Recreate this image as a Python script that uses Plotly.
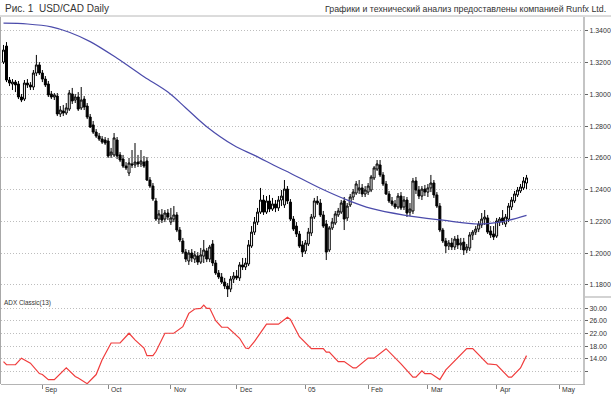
import pandas as pd
import plotly.graph_objects as go

# ---- data ----
start_date = "2004-08-13"
n_bars = 176
dates = pd.bdate_range(start_date, periods=n_bars)
bars = list(range(n_bars))

open_ = [1.3204,1.3305,1.3091,1.3066,1.3078,1.3066,1.2984,1.2971,1.3072,1.3060,
         1.3047,1.3135,1.3186,1.3135,1.3097,1.3066,1.3003,1.2984,1.2990,1.2877,
         1.2896,1.2883,1.2908,1.3003,1.2965,1.2984,1.2915,1.2971,1.2927,1.2858,
         1.2808,1.2763,1.2738,1.2719,1.2713,1.2707,1.2619,1.2619,1.2713,1.2619,
         1.2593,1.2549,1.2505,1.2562,1.2556,1.2574,1.2562,1.2574,1.2581,1.2461,
         1.2423,1.2329,1.2215,1.2241,1.2215,1.2253,1.2196,1.2215,1.2241,1.2146,
         1.2077,1.2007,1.1951,1.2001,1.1963,1.1982,1.1944,1.1982,1.2014,1.1963,
         1.2058,1.1938,1.1875,1.1850,1.1818,1.1793,1.1774,1.1837,1.1856,1.1844,
         1.1926,1.1913,1.1932,1.2045,1.2133,1.2196,1.2259,1.2335,1.2259,1.2329,
         1.2278,1.2310,1.2285,1.2335,1.2304,1.2404,1.2322,1.2215,1.2171,1.2121,
         1.2052,1.2014,1.2058,1.2127,1.2228,1.2329,1.2316,1.2241,1.2184,1.2020,
         1.2159,1.2190,1.2241,1.2259,1.2329,1.2222,1.2304,1.2354,1.2379,1.2398,
         1.2411,1.2373,1.2385,1.2398,1.2474,1.2530,1.2556,1.2493,1.2436,1.2373,
         1.2329,1.2310,1.2291,1.2360,1.2291,1.2335,1.2259,1.2266,1.2455,1.2398,
         1.2360,1.2404,1.2385,1.2411,1.2442,1.2367,1.2297,1.2146,1.2077,1.2045,
         1.2064,1.2039,1.2089,1.2052,1.2070,1.2020,1.2033,1.2115,1.2133,1.2152,
         1.2178,1.2215,1.2222,1.2140,1.2121,1.2108,1.2196,1.2222,1.2184,1.2215,
         1.2291,1.2329,1.2367,1.2392,1.2411,1.2442]
high = [1.3312,1.3330,1.3110,1.3097,1.3091,1.3085,1.3003,1.3091,1.3097,1.3078,
        1.3154,1.3249,1.3204,1.3154,1.3116,1.3085,1.3022,1.3009,1.3009,1.2927,
        1.2934,1.2946,1.3028,1.3041,1.3003,1.3015,1.3047,1.2990,1.2946,1.2877,
        1.2833,1.2782,1.2757,1.2738,1.2732,1.2726,1.2663,1.2757,1.2732,1.2637,
        1.2619,1.2574,1.2600,1.2650,1.2694,1.2619,1.2650,1.2612,1.2606,1.2480,
        1.2442,1.2348,1.2272,1.2278,1.2272,1.2278,1.2285,1.2297,1.2259,1.2165,
        1.2096,1.2026,1.2020,1.2026,1.2014,1.2007,1.2033,1.2083,1.2033,1.2052,
        1.2083,1.1957,1.1894,1.1875,1.1844,1.1812,1.1856,1.1881,1.1894,1.1944,
        1.1970,1.1970,1.2083,1.2171,1.2228,1.2285,1.2411,1.2367,1.2360,1.2367,
        1.2348,1.2335,1.2360,1.2398,1.2461,1.2423,1.2341,1.2234,1.2196,1.2140,
        1.2077,1.2083,1.2159,1.2247,1.2348,1.2360,1.2341,1.2266,1.2209,1.2171,
        1.2222,1.2266,1.2285,1.2335,1.2354,1.2316,1.2373,1.2404,1.2455,1.2461,
        1.2436,1.2423,1.2442,1.2493,1.2549,1.2587,1.2587,1.2511,1.2455,1.2392,
        1.2354,1.2335,1.2379,1.2385,1.2360,1.2354,1.2316,1.2474,1.2480,1.2423,
        1.2423,1.2430,1.2436,1.2493,1.2461,1.2385,1.2316,1.2159,1.2096,1.2083,
        1.2096,1.2108,1.2115,1.2096,1.2096,1.2058,1.2133,1.2146,1.2171,1.2203,
        1.2253,1.2272,1.2241,1.2171,1.2171,1.2222,1.2228,1.2272,1.2247,1.2316,
        1.2354,1.2392,1.2417,1.2436,1.2480,1.2493]
low = [1.3192,1.3078,1.3053,1.3028,1.3015,1.2971,1.2952,1.2959,1.3041,1.3028,
       1.3028,1.3116,1.3123,1.3078,1.3047,1.2984,1.2971,1.2965,1.2864,1.2858,
       1.2864,1.2871,1.2896,1.2940,1.2946,1.2896,1.2902,1.2902,1.2845,1.2789,
       1.2751,1.2726,1.2707,1.2688,1.2682,1.2600,1.2600,1.2606,1.2593,1.2574,
       1.2537,1.2524,1.2486,1.2537,1.2537,1.2543,1.2543,1.2537,1.2455,1.2411,
       1.2329,1.2203,1.2184,1.2190,1.2196,1.2209,1.2178,1.2196,1.2133,1.2070,
       1.1995,1.1944,1.1926,1.1944,1.1938,1.1926,1.1932,1.1938,1.1944,1.1944,
       1.1919,1.1863,1.1837,1.1806,1.1774,1.1724,1.1755,1.1812,1.1831,1.1825,
       1.1894,1.1894,1.1919,1.2033,1.2115,1.2178,1.2247,1.2241,1.2247,1.2259,
       1.2266,1.2259,1.2266,1.2297,1.2285,1.2310,1.2203,1.2140,1.2102,1.2033,
       1.1976,1.1995,1.2045,1.2108,1.2215,1.2304,1.2228,1.2159,1.1957,1.2007,
       1.2146,1.2178,1.2228,1.2247,1.2146,1.2203,1.2291,1.2335,1.2367,1.2373,
       1.2354,1.2354,1.2367,1.2385,1.2461,1.2518,1.2480,1.2423,1.2367,1.2316,
       1.2297,1.2278,1.2278,1.2272,1.2272,1.2228,1.2234,1.2247,1.2373,1.2341,
       1.2335,1.2360,1.2354,1.2385,1.2348,1.2285,1.2133,1.2064,1.2001,1.2020,
       1.2020,1.2020,1.2026,1.2020,1.1989,1.2001,1.2014,1.2083,1.2115,1.2133,
       1.2159,1.2178,1.2121,1.2096,1.2083,1.2096,1.2171,1.2178,1.2165,1.2196,
       1.2272,1.2316,1.2354,1.2379,1.2398,1.2404]
close = [1.3280,1.3091,1.3072,1.3078,1.3060,1.2984,1.2965,1.3072,1.3060,1.3047,
         1.3135,1.3186,1.3135,1.3097,1.3060,1.2997,1.2984,1.2997,1.2877,1.2902,
         1.2883,1.2915,1.3009,1.2959,1.2984,1.2908,1.2965,1.2921,1.2858,1.2795,
         1.2763,1.2738,1.2719,1.2700,1.2694,1.2612,1.2637,1.2726,1.2612,1.2587,
         1.2549,1.2537,1.2568,1.2556,1.2574,1.2562,1.2581,1.2549,1.2461,1.2423,
         1.2341,1.2215,1.2247,1.2209,1.2253,1.2228,1.2222,1.2241,1.2146,1.2083,
         1.2007,1.1963,1.2001,1.1970,1.1989,1.1944,1.1989,1.2020,1.1963,1.2039,
         1.1938,1.1875,1.1850,1.1818,1.1793,1.1774,1.1837,1.1856,1.1844,1.1926,
         1.1913,1.1938,1.2052,1.2133,1.2196,1.2259,1.2335,1.2259,1.2329,1.2278,
         1.2310,1.2285,1.2335,1.2360,1.2404,1.2329,1.2215,1.2152,1.2121,1.2045,
         1.2007,1.2064,1.2133,1.2228,1.2329,1.2316,1.2241,1.2171,1.2007,1.2159,
         1.2196,1.2247,1.2266,1.2316,1.2215,1.2297,1.2354,1.2385,1.2436,1.2411,
         1.2373,1.2398,1.2423,1.2480,1.2537,1.2562,1.2493,1.2436,1.2373,1.2329,
         1.2310,1.2291,1.2360,1.2285,1.2335,1.2253,1.2278,1.2455,1.2398,1.2360,
         1.2404,1.2385,1.2411,1.2442,1.2367,1.2297,1.2146,1.2077,1.2045,1.2064,
         1.2039,1.2089,1.2052,1.2064,1.2020,1.2039,1.2115,1.2133,1.2152,1.2184,
         1.2215,1.2228,1.2133,1.2115,1.2102,1.2203,1.2215,1.2196,1.2228,1.2297,
         1.2335,1.2373,1.2398,1.2417,1.2455,1.2474]

# long moving average (blue line), read at selected bars
ma_bar = [0, 8, 16, 22, 29, 38, 47, 55, 61, 68, 77, 84, 92, 96, 106, 115, 123, 134, 147, 159, 167, 175]
ma_val = [1.3449, 1.3444, 1.3426, 1.3392, 1.3333, 1.3228, 1.3112, 1.3015, 1.2915, 1.2797, 1.2680,
          1.2616, 1.2540, 1.2504, 1.2409, 1.2335, 1.2282, 1.2240, 1.2208, 1.2184, 1.2199, 1.2238]

# ADX Classic(13), read at its turning points
adx_bar = [0, 1, 4, 6, 9, 12, 13, 15, 17, 21, 24, 25, 28, 31, 33, 36, 39, 42, 44, 47, 48, 50, 51,
           54, 57, 60, 62, 64, 66, 67, 68, 69, 71, 73, 75, 79, 81, 82, 84, 86, 88, 92, 95, 96, 99,
           103, 107, 108, 109, 112, 114, 117, 118, 122, 124, 128, 133, 137, 138, 140, 141, 143, 146,
           148, 155, 157, 162, 165, 169, 170, 173, 175]
adx_val = [13.1, 12.1, 12.1, 14.2, 12.6, 9.3, 9.0, 7.4, 7.4, 11.1, 8.4, 7.9, 6.1, 9.0, 13.7, 19.0,
           19.0, 22.1, 20.0, 17.4, 15.0, 15.0, 16.3, 22.1, 22.1, 24.2, 28.4, 29.8, 30.0, 31.0, 30.0,
           30.0, 26.1, 24.0, 24.0, 20.5, 17.4, 17.2, 19.5, 22.1, 25.0, 25.0, 27.2, 26.5, 21.0, 17.2,
           17.2, 16.1, 16.1, 13.1, 13.1, 11.1, 11.1, 14.2, 14.2, 17.2, 12.4, 8.2, 8.2, 10.2, 9.3,
           9.3, 7.4, 10.5, 17.2, 17.2, 12.4, 12.1, 8.2, 8.2, 11.1, 15.0]

month_labels = ["Sep", "Oct", "Nov", "Dec", "05", "Feb", "Mar", "Apr", "May"]
month_starts = ["2004-09-01", "2004-10-01", "2004-11-01", "2004-12-01", "2005-01-03",
                "2005-02-01", "2005-03-01", "2005-04-01", "2005-05-02"]
price_ticks = [1.18, 1.20, 1.22, 1.24, 1.26, 1.28, 1.30, 1.32, 1.34]
adx_ticks = [10, 14, 18, 22, 26, 30]
adx_ticktext = ["", "14.00", "18.00", "22.00", "26.00", "30.00"]

# bar position of each month start on the trading-day axis
month_pos = [len(pd.bdate_range(start_date, d)) - 1 for d in month_starts]

# ---- figure ----
FONT = "Liberation Sans, Arial, sans-serif"
W, H = 611, 395
ML, MR, MT, MB = 1, 28, 17, 11
plot_w = W - ML - MR
plot_h = H - MT - MB
split = 87 / plot_h
xr = [-0.84, 193.9]

fig = go.Figure()
fig.add_trace(go.Candlestick(
    x=bars, open=open_, high=high, low=low, close=close,
    increasing=dict(line=dict(color="#000000", width=1), fillcolor="#ffffff"),
    decreasing=dict(line=dict(color="#000000", width=1), fillcolor="#000000"),
    whiskerwidth=0, xaxis="x", yaxis="y", showlegend=False, hoverinfo="skip"))
fig.add_trace(go.Scatter(
    x=ma_bar, y=ma_val, mode="lines", line=dict(color="#4b4bab", width=1.2, shape="spline"),
    xaxis="x", yaxis="y", showlegend=False, hoverinfo="skip"))
fig.add_trace(go.Scatter(
    x=adx_bar, y=adx_val, mode="lines", line=dict(color="#f03c3c", width=1.2),
    xaxis="x2", yaxis="y2", showlegend=False, hoverinfo="skip"))

axis_font = dict(family=FONT, size=7, color="#333333")
grid_dash = "1px,2px"
fig.update_layout(
    width=W, height=H, margin=dict(l=ML, r=MR, t=MT, b=MB, pad=0),
    paper_bgcolor="white", plot_bgcolor="white", showlegend=False, boxgap=0.05,
    xaxis=dict(domain=[0, 1], anchor="y", range=xr, showticklabels=False, showgrid=False,
               zeroline=False, showline=False, rangeslider=dict(visible=False), fixedrange=True),
    xaxis2=dict(domain=[0, 1], anchor="y2", range=xr, showticklabels=False, showgrid=False,
                zeroline=False, showline=True, linecolor="#b4b4b4", linewidth=1,
                tickmode="array", tickvals=month_pos, ticks="outside", ticklen=4,
                tickcolor="#888888", tickwidth=1),
    yaxis=dict(domain=[split, 1], anchor="x", side="right", range=[1.1724, 1.3488],
               tickmode="array", tickvals=price_ticks, tickformat=".4f",
               showgrid=True, gridcolor="#bdbdbd", griddash=grid_dash, gridwidth=1,
               zeroline=False, showline=True, linecolor="#c4c4c4", linewidth=2,
               ticks="outside", ticklen=3, tickcolor="#666666", tickfont=axis_font),
    yaxis2=dict(domain=[0, split], anchor="x2", side="right", range=[6.0, 33.6],
                tickmode="array", tickvals=adx_ticks, ticktext=adx_ticktext,
                showgrid=True, gridcolor="#bdbdbd", griddash=grid_dash, gridwidth=1,
                zeroline=False, showline=True, linecolor="#c4c4c4", linewidth=2,
                ticks="outside", ticklen=3, tickcolor="#666666", tickfont=axis_font),
)

px_x = lambda p: (p - ML) / plot_w
px_y = lambda p: (H - MB - p) / plot_h

fig.add_shape(type="line", xref="paper", yref="paper", x0=px_x(0), x1=px_x(W),
              y0=px_y(16), y1=px_y(16), line=dict(color="#b8b8b8", width=1))
fig.add_shape(type="line", xref="paper", yref="paper", x0=px_x(0.5), x1=px_x(0.5),
              y0=0, y1=1, line=dict(color="#a8a8a8", width=1))
fig.add_shape(type="line", xref="paper", yref="paper", x0=1, x1=px_x(W),
              y0=split, y1=split, line=dict(color="#c4c4c4", width=1.5))

fig.add_annotation(text="Рис. 1&nbsp; USD/CAD Daily", xref="paper", yref="paper",
                   x=px_x(3), y=px_y(9), xanchor="left", yanchor="middle", showarrow=False,
                   font=dict(family=FONT, size=10, color="#333333"))
fig.add_annotation(text="Графики и технический анализ предоставлены компанией Runfx Ltd.",
                   xref="paper", yref="paper", x=px_x(608), y=px_y(8.5), xanchor="right",
                   yanchor="middle", showarrow=False,
                   font=dict(family=FONT, size=8.8, color="#333333"))
fig.add_annotation(text="ADX Classic(13)", xref="paper", yref="paper", x=px_x(2),
                   y=px_y(303), xanchor="left", yanchor="middle", showarrow=False,
                   font=dict(family=FONT, size=6.4, color="#333333"))
for lab, pos in zip(month_labels, month_pos):
    fig.add_annotation(text=lab, xref="x2", yref="paper", x=pos, y=px_y(389.5),
                       xanchor="left", yanchor="middle", xshift=1, showarrow=False,
                       font=dict(family=FONT, size=6.8, color="#333333"))

fig.write_html("out.html", config={"displayModeBar": False},
               post_script="document.body.style.margin='0px';")
